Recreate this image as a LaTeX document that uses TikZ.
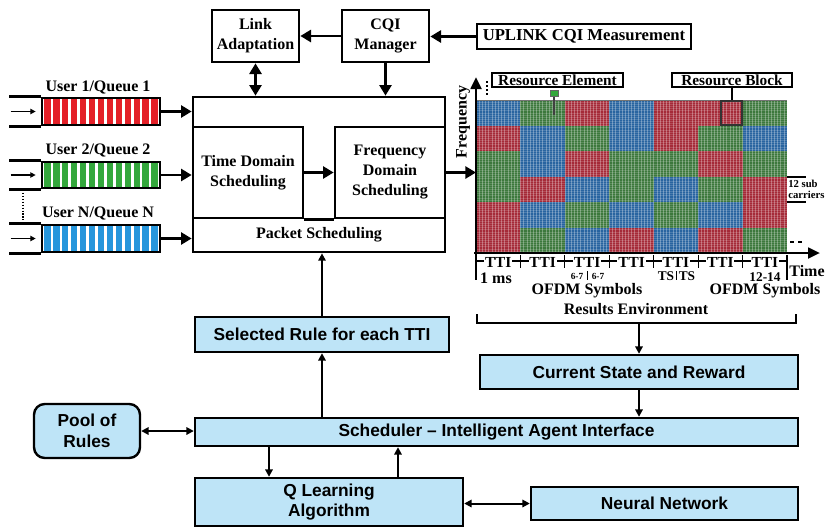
\documentclass[tikz,border=0pt]{standalone}
\usepackage{fontspec}
\setmainfont{Liberation Serif}
\newfontfamily\sansbf{Liberation Sans}
\usetikzlibrary{arrows.meta}

\definecolor{qred}{RGB}{228,32,40}
\definecolor{qgreen}{RGB}{52,168,60}
\definecolor{qblue}{RGB}{38,150,220}
\definecolor{cR}{RGB}{165,42,56}
\definecolor{cG}{RGB}{60,120,60}
\definecolor{cB}{RGB}{40,100,160}
\definecolor{lblue}{RGB}{190,228,247}

\tikzset{
  % a rectangle given by its left, top, right and bottom edges (in pixels)
  rect/.style n args={4}{minimum width={(#3-#1)*0.75pt}, minimum height={(#4-#2)*0.75pt},
                         at={({(#1+#3)/2},{(#2+#4)/2})}},
  serif/.style={font=\fontsize{12}{15}\selectfont\bfseries},
  sansl/.style={font=\sansbf\fontsize{13}{15.5}\selectfont\bfseries},
  blk/.style={draw, line width=2pt, inner sep=0pt, align=center, serif},
  lbl/.style={draw, line width=0.9pt, inner sep=0pt, align=center,
              font=\fontsize{11.5}{13}\selectfont\bfseries},
  lbox/.style={draw, fill=lblue, line width=1.8pt, inner sep=0pt, align=center, sansl},
  queue/.style={draw, line width=2pt, inner sep=0pt},
  bigarr/.style={line width=2.2pt, -{Triangle[length=8pt,width=9pt]}},
  bigdbl/.style={line width=2.2pt, {Triangle[length=8pt,width=9pt]}-{Triangle[length=8pt,width=9pt]}},
  thinarr/.style={line width=1.5pt, -{Triangle[length=5.5pt,width=5.5pt]}},
  thindbl/.style={line width=1.5pt, {Triangle[length=5.5pt,width=5.5pt]}-{Triangle[length=5.5pt,width=5.5pt]}},
  pipearr/.style={line width=0.9pt, -{Triangle[length=4pt,width=4pt]}},
  axisarr/.style={line width=2pt, -{Triangle[length=9pt,width=8pt]}},
  tickline/.style={line width=0.8pt},
  ttilabel/.style={font=\fontsize{11.5}{12}\selectfont\bfseries, fill=white, inner sep=0.6pt},
  smalllab/.style={font=\fontsize{7}{8}\selectfont\bfseries, inner sep=0.5pt},
  midlab/.style={font=\fontsize{10}{11}\selectfont\bfseries, inner sep=0.5pt},
}

\begin{document}
\begin{tikzpicture}[x=0.75pt, y=-0.75pt]
\useasboundingbox (0,0) rectangle (825,529);

% ---------- control blocks ----------
\node[blk, rect={212}{10}{299}{62}] (la) {Link\\Adaptation};
\node[blk, rect={342}{10}{429}{62}] (cqi) {CQI\\Manager};
\node[blk, rect={477}{24}{691}{49}, font=\fontsize{12.5}{15}\selectfont\bfseries] (upl) {UPLINK CQI Measurement};

\node[blk, rect={193}{97}{445}{252}] (ps) {};
\node[blk, rect={193}{127}{303}{218}] (td) {Time Domain\\Scheduling};
\node[blk, rect={335}{127}{445}{218}] (fd) {Frequency\\Domain\\Scheduling};
\draw[line width=2pt] (td.south east) -- (fd.south west);
\node[serif] (pslab) at (319,235) {Packet Scheduling};

\draw[bigarr] (upl.west) -- (upl.west -| cqi.east);
\draw[bigarr] (cqi.west) -- (cqi.west -| la.east);
\draw[bigdbl] (la.south) -- (la.south |- ps.north);
\draw[bigarr] (cqi.south) -- (cqi.south |- ps.north);
\draw[bigarr] (td.east) -- (td.east -| fd.west);

% ---------- user queues ----------
\foreach \k in {0,...,12} \fill[qred]   ({44.3+\k*8.92},98)  rectangle ++(6.3,27);
\foreach \k in {0,...,12} \fill[qgreen] ({44.3+\k*8.92},162) rectangle ++(6.3,26);
\foreach \k in {0,...,12} \fill[qblue]  ({44.3+\k*8.92},225) rectangle ++(6.3,27);
\node[queue, rect={42}{98}{160}{125}]  (q1) {};
\node[queue, rect={42}{162}{160}{188}] (q2) {};
\node[queue, rect={42}{225}{160}{252}] (qn) {};
\foreach \q in {q1,q2,qn}{
  \draw[line width=2pt] (\q.north west) -- ++(-32,0);
  \draw[line width=2pt] (\q.south west) -- ++(-32,0);
  \draw[pipearr] (\q.west) ++(-30,0) -- ++(25,0);
  \draw[bigarr] (\q.east) -- (\q.east -| ps.west);
}
\node[serif] (l1) at (98,87)  {User 1/Queue 1};
\node[serif] (l2) at (98,150) {User 2/Queue 2};
\node[serif] (ln) at (98,213) {User N/Queue N};
\draw[line width=1pt, dash pattern=on 1pt off 1.2pt] (23,190) -- (23,220);

% ---------- resource grid ----------
\def\cw{44.4286}
\def\rh{25.5}
\foreach \row [count=\r from 0] in {{cB,cG,cR,cB,cR,cR,cG},
                                     {cR,cB,cG,cB,cR,cG,cB},
                                     {cG,cB,cR,cG,cG,cR,cG},
                                     {cG,cR,cB,cG,cB,cG,cR},
                                     {cR,cB,cG,cB,cG,cB,cR},
                                     {cR,cG,cB,cR,cB,cR,cG}}{
  \foreach \col [count=\c from 0] in \row
    \fill[\col] ({476+\c*\cw},{100+\r*\rh}) rectangle ++(\cw,\rh);
}
\foreach \i in {1,...,97}
  \draw[white, opacity=.3, line width=.35pt] ({476+\i*3.1735},100) -- ++(0,153);
\foreach \j in {1,...,71}
  \draw[white, opacity=.16, line width=.3pt] (476,{100+\j*2.125}) -- ++(311,0);
\draw[black!55, line width=.5pt] (476,100) -- (787,100);

\node[draw, black!80, line width=1.2pt, inner sep=0pt, rect={721}{101}{742}{125}] (rbk) {};
\node[lbl, rect={492}{73}{623}{87}] (re) {Resource Element};
\node[lbl, rect={672}{73}{792}{87}] (rb) {Resource Block};
\draw[line width=0.9pt] (rb.south) -- (rb.south |- rbk.north);
\draw[line width=1.5pt, black!75] (554,95) -- (554,115);
\filldraw[fill=qgreen, draw=black!60, line width=0.5pt] (550,90) rectangle (558,96);
\draw[line width=0.8pt, dash pattern=on 1.5pt off 1.5pt] (487,81) -- (487,97);

% axes
\coordinate (f0) at (476,256);
\coordinate (f1) at (476,77);
\coordinate (t0) at (474,253);
\coordinate (t1) at (820,253);
\draw[axisarr] (f0) -- (f1);
\draw[axisarr] (t0) -- (t1);
\node[serif, rotate=90] (flab) at (463,122) {Frequency};
\node[serif] (tlab) at (807,271) {Time};
\draw[bigarr] (fd.east) -- (fd.east -| f0);

% 12 subcarriers marker
\draw[tickline] (787,177) -- (806,177);
\draw[tickline] (787,202) -- (806,202);
\node[anchor=west, inner sep=0pt, align=left, font=\fontsize{8}{8.5}\selectfont\bfseries] (sub) at (788,189.5) {12 sub\\carriers};
\draw[line width=0.8pt, dash pattern=on 3pt off 3pt] (790,242) -- (803,242);

% TTI scale
\draw[tickline] (476,261) -- (787,261);
\foreach \k in {0,...,7} \draw[tickline] ({476+\k*\cw},255) -- ++(0,13);
\draw[tickline] (476,255) -- (476,280);
\draw[tickline] (787,255) -- (787,280);
\foreach \k in {0,...,6} \node[ttilabel] (tti\k) at ({476+(\k+.5)*\cw},262) {TTI};
\node[serif, inner sep=0.5pt] (ms) at (496,278) {1 ms};
\node[smalllab] (s67a) at (577,276) {6-7};
\node[smalllab] (s67b) at (598,276) {6-7};
\draw[tickline] (587.5,271) -- (587.5,280);
\node[midlab] (tsa) at (666,276.5) {TS};
\node[midlab] (tsb) at (687,276.5) {TS};
\draw[tickline] (676.5,271) -- (676.5,280);
\node[midlab] (s1214) at (765,277) {12-14};
\node[serif] (ofa) at (587,291) {OFDM Symbols};
\node[serif] (ofb) at (765,291) {OFDM Symbols};
\node[serif] (res) at (636,309) {Results Environment};
\draw[line width=2pt] (477,314) -- (477,323) -- (796,323) -- (796,314);
\coordinate (stem) at (639,323);

% ---------- learning loop ----------
\node[lbox, rect={195}{317}{449}{352}] (sel) {Selected Rule for each TTI};
\node[lbox, rect={480}{355}{798}{389}] (cur) {Current State and Reward};
\node[lbox, rounded corners=8pt, rect={34}{404}{140}{458}] (pool) {Pool of\\Rules};
\node[lbox, rect={195}{418}{798}{446}] (sch) {Scheduler \textendash\ Intelligent Agent Interface};
\node[lbox, rect={195}{478}{463}{526}] (ql) {Q Learning\\Algorithm};
\node[lbox, rect={531}{487}{798}{520}] (nn) {Neural Network};

\coordinate (qa) at (269,0);
\coordinate (qb) at (398,0);
\draw[thinarr] (sel.north) -- (sel.north |- ps.south);
\draw[thinarr] (sel.south |- sch.north) -- (sel.south);
\draw[thinarr] (stem) -- (cur.north);
\draw[thinarr] (cur.south) -- (cur.south |- sch.north);
\draw[thindbl] (pool.east) -- (pool.east -| sch.west);
\draw[thinarr] (sch.south -| qa) -- (ql.north -| qa);
\draw[thinarr] (ql.north -| qb) -- (sch.south -| qb);
\draw[thindbl] (nn.west -| ql.east) -- (nn.west);
\end{tikzpicture}
\end{document}
